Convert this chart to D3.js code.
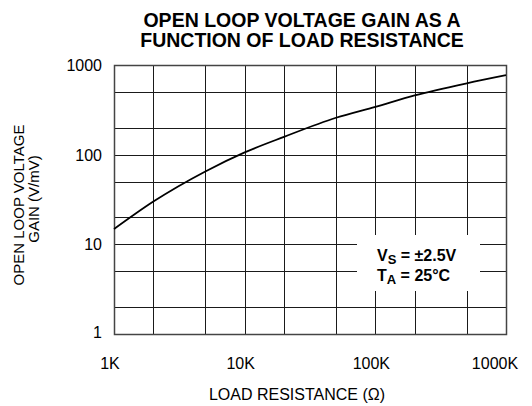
<!DOCTYPE html>
<html><head><meta charset="utf-8">
<script src="https://cdn.jsdelivr.net/npm/d3@7"></script>
<style>body{margin:0;background:#fff}svg{display:block}text{font-family:"Liberation Sans",Arial,sans-serif;fill:#000}</style>
</head><body>
<script>
const resistanceK = [1, 2, 5, 10, 20, 50, 100, 200, 500, 1000];
const gainVmV = [14.8, 30, 65, 106, 158, 258, 342, 458, 625, 770];
const xTickValues = [1, 10, 100, 1000];
const xTickLabels = ["1K", "10K", "100K", "1000K"];
const yTickValues = [1, 10, 100, 1000];
const yTickLabels = ["1", "10", "100", "1000"];
const gridSteps = [1, 2, 5];
const titleLines = ["OPEN LOOP VOLTAGE GAIN AS A", "FUNCTION OF LOAD RESISTANCE"];
const yTitleLines = ["OPEN LOOP VOLTAGE", "GAIN (V/mV)"];
const xTitle = "LOAD RESISTANCE (\u03A9)";

const W = 532, H = 406;
const L = 114, R = 506, T = 65, B = 334;
const svg = d3.select("body").append("svg").attr("width", W).attr("height", H);
const x = d3.scaleLog().domain([1, 1000]).range([L, R]);
const y = d3.scaleLog().domain([1, 1000]).range([B, T]);

const xs = [], ys = [];
[1, 10, 100].forEach(d => gridSteps.forEach(s => xs.push(d * s)));
xs.push(1000);
[1, 10, 100].forEach(d => gridSteps.forEach(s => ys.push(d * s)));
ys.push(1000);

const g = svg.append("g");
g.selectAll(".vx").data(xs).join("line")
  .attr("x1", d => Math.round(x(d)) + 0.5).attr("x2", d => Math.round(x(d)) + 0.5)
  .attr("y1", T).attr("y2", B).attr("stroke", "#1a1a1a").attr("stroke-width", 1);
g.selectAll(".hy").data(ys).join("line")
  .attr("y1", d => Math.round(y(d)) + 0.5).attr("y2", d => Math.round(y(d)) + 0.5)
  .attr("x1", L).attr("x2", R).attr("stroke", "#1a1a1a").attr("stroke-width", 1);
g.append("rect").attr("x", L + 0.5).attr("y", T + 0.5).attr("width", R - L).attr("height", B - T)
  .attr("fill", "none").attr("stroke", "#444").attr("stroke-width", 1.5);

// curve
const pts = resistanceK.map((r, i) => [x(r), y(gainVmV[i])]);
svg.append("path").attr("d", d3.line().curve(d3.curveMonotoneX)(pts))
  .attr("fill", "none").attr("stroke", "#000").attr("stroke-width", 1.8);

// legend box
svg.append("rect").attr("x", 357).attr("y", 235).attr("width", 123).attr("height", 56).attr("fill", "#fff");
const leg = svg.append("g").attr("font-weight", "bold").attr("font-size", 16);
const t1 = leg.append("text").attr("x", 377).attr("y", 261);
t1.append("tspan").text("V");
t1.append("tspan").attr("font-size", 13).attr("dy", 3).text("S");
t1.append("tspan").attr("dy", -3).text(" = \u00B12.5V");
const t2 = leg.append("text").attr("x", 377).attr("y", 281);
t2.append("tspan").text("T");
t2.append("tspan").attr("font-size", 13).attr("dy", 3).text("A");
t2.append("tspan").attr("dy", -3).text(" = 25\u00B0C");

// tick labels
svg.selectAll(".xl").data(xTickValues).join("text")
  .attr("x", d => Math.min(x(d) - 4, 495)).attr("y", 369).attr("text-anchor", "middle").attr("font-size", 16)
  .text((d, i) => xTickLabels[i]);
svg.selectAll(".yl").data(yTickValues).join("text")
  .attr("x", 102).attr("y", d => d === 1 ? y(d) + 4 : y(d) + 6).attr("text-anchor", "end").attr("font-size", 16)
  .text((d, i) => yTickLabels[i]);

// titles
svg.selectAll(".tt").data(titleLines).join("text")
  .attr("x", 302).attr("y", (d, i) => 27 + i * 20).attr("text-anchor", "middle")
  .attr("font-weight", "bold").attr("font-size", 19.5).text(d => d);
svg.append("text").attr("x", 297).attr("y", 400).attr("text-anchor", "middle").attr("font-size", 16).text(xTitle);
svg.selectAll(".yt").data(yTitleLines).join("text")
  .attr("transform", (d, i) => `translate(${24 + i * 15},${i ? 199 : 205}) rotate(-90)`)
  .attr("text-anchor", "middle").attr("font-size", 15).text(d => d);
</script>
</body></html>
